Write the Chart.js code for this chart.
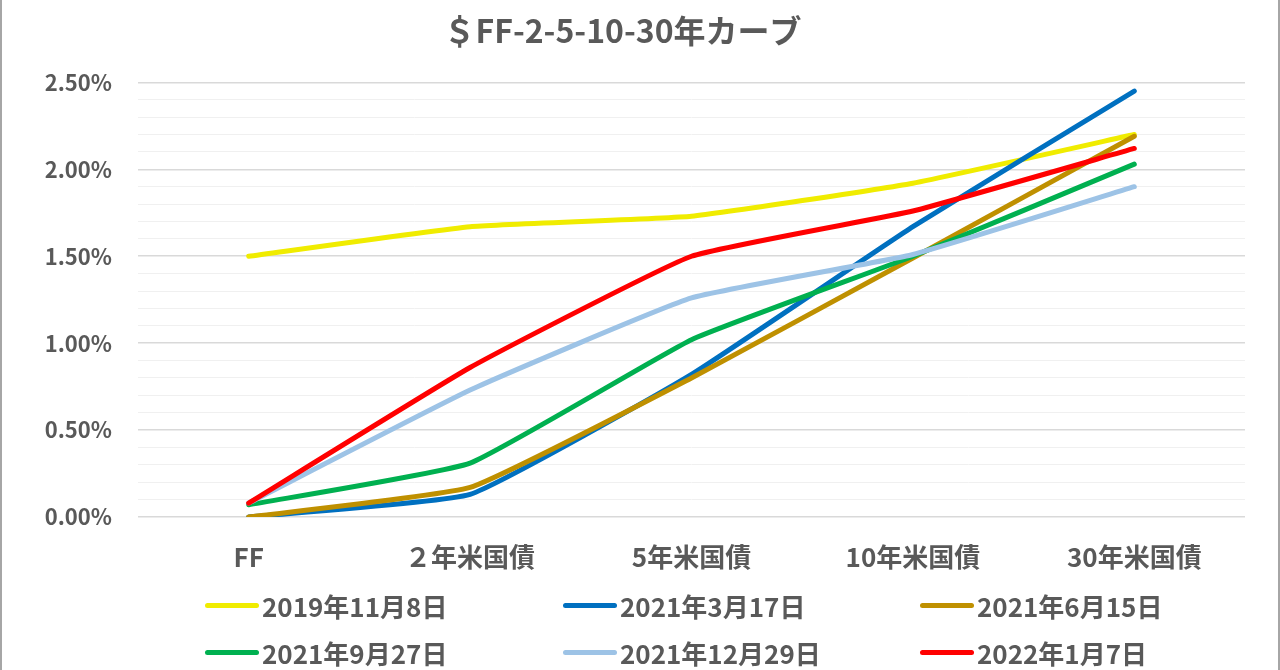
<!DOCTYPE html>
<html lang="ja">
<head>
<meta charset="utf-8">
<title>＄FF-2-5-10-30年カーブ</title>
<script src="https://cdn.jsdelivr.net/npm/chart.js@4.4.1/dist/chart.umd.min.js"></script>
<style>
  html, body { margin: 0; padding: 0; background: #fff; }
  #wrap { position: relative; width: 1280px; height: 670px; overflow: hidden; }
  #wrap .edge { position: absolute; top: 0; bottom: 0; width: 2px; background: #a6a6a6; }
  #legend { position: absolute; left: 0; top: 0; width: 1280px; height: 670px; pointer-events: none; }
  .item {
    position: absolute; display: flex; align-items: center; height: 36px; margin-top: -18px;
    font: bold 26px "Noto Sans CJK JP", "Noto Sans", sans-serif; color: #595959; white-space: nowrap;
  }
  .swatch { width: 54px; height: 5px; border-radius: 3px; margin-right: 3px; }
</style>
</head>
<body>
<div id="wrap">
  <canvas id="curve-chart" width="1280" height="670"></canvas>
  <div id="legend"></div>
  <div class="edge" style="left:0"></div>
  <div class="edge" style="left:1278px"></div>
</div>
<script>
// tenors on the x axis
const categories = ['FF', '２年米国債', '5年米国債', '10年米国債', '30年米国債'];

// yields in percent, one array per observation date
const s20191108 = [1.50, 1.67, 1.73, 1.92, 2.20];
const s20210317 = [0.00, 0.13, 0.82, 1.67, 2.45];
const s20210615 = [0.00, 0.17, 0.80, 1.49, 2.19];
const s20210927 = [0.07, 0.31, 1.02, 1.50, 2.03];
const s20211229 = [0.08, 0.73, 1.26, 1.51, 1.90];
const s20220107 = [0.08, 0.86, 1.50, 1.76, 2.12];

const seriesNames = ['2019年11月8日', '2021年3月17日', '2021年6月15日', '2021年9月27日', '2021年12月29日', '2022年1月7日'];
const seriesValues = [s20191108, s20210317, s20210615, s20210927, s20211229, s20220107];
const seriesColors = ['#f0ec00', '#0070c0', '#bf9000', '#00b050', '#9dc3e6', '#ff0000'];

const FONT = '"Noto Sans CJK JP", "Noto Sans", sans-serif';
const TEXT = '#595959';

const isMajor = v => Math.abs(v * 2 - Math.round(v * 2)) < 1e-6;

const datasets = seriesNames.map((name, i) => ({
  label: name,
  data: seriesValues[i],
  borderColor: seriesColors[i],
  backgroundColor: seriesColors[i],
  borderWidth: 5,
  borderCapStyle: 'round',
  borderJoinStyle: 'round',
  pointRadius: 0,
  pointHoverRadius: 0,
  tension: 0.12,
  fill: false,
  // later series sit on top, as in the original
  order: seriesNames.length - i
}));

const chart = new Chart(document.getElementById('curve-chart'), {
  type: 'line',
  data: { labels: categories, datasets },
  options: {
    responsive: false,
    animation: false,
    layout: { padding: { left: 0, right: 35, top: 0, bottom: 93 } },
    plugins: {
      legend: { display: false },
      tooltip: { enabled: false },
      title: {
        display: true,
        text: '＄FF-2-5-10-30年カーブ',
        color: TEXT,
        font: { family: FONT, size: 32, weight: 'bold' },
        padding: { top: 12, bottom: 32 }
      }
    },
    scales: {
      x: {
        offset: true,
        grid: { display: false, drawTicks: false },
        border: { display: false },
        ticks: {
          color: TEXT,
          padding: 25,
          font: { family: FONT, size: 26, weight: 'bold' },
          maxRotation: 0
        },
        afterFit: scale => { scale.height = 60; }
      },
      y: {
        min: 0,
        max: 2.5,
        border: { display: false },
        grid: {
          drawTicks: false,
          color: ctx => isMajor(ctx.tick.value) ? '#d9d9d9' : '#f0f0f0',
          lineWidth: ctx => isMajor(ctx.tick.value) ? 1.5 : 1
        },
        ticks: {
          stepSize: 0.1,
          autoSkip: false,
          padding: 26,
          color: TEXT,
          font: { family: FONT, size: 22, weight: 'bold' },
          callback: v => isMajor(v) ? v.toFixed(2) + '%' : ''
        },
        afterFit: scale => { scale.width = 138; }
      }
    }
  }
});

// legend laid out in three aligned columns, two rows
const legendCols = [205, 563, 920];
const legendRows = [605, 652];
const legendBox = document.getElementById('legend');
chart.data.datasets.forEach((ds, i) => {
  const item = document.createElement('div');
  item.className = 'item';
  item.style.left = legendCols[i % 3] + 'px';
  item.style.top = legendRows[Math.floor(i / 3)] + 'px';
  const sw = document.createElement('span');
  sw.className = 'swatch';
  sw.style.background = ds.borderColor;
  item.appendChild(sw);
  item.appendChild(document.createTextNode(ds.label));
  legendBox.appendChild(item);
});
</script>
</body>
</html>
